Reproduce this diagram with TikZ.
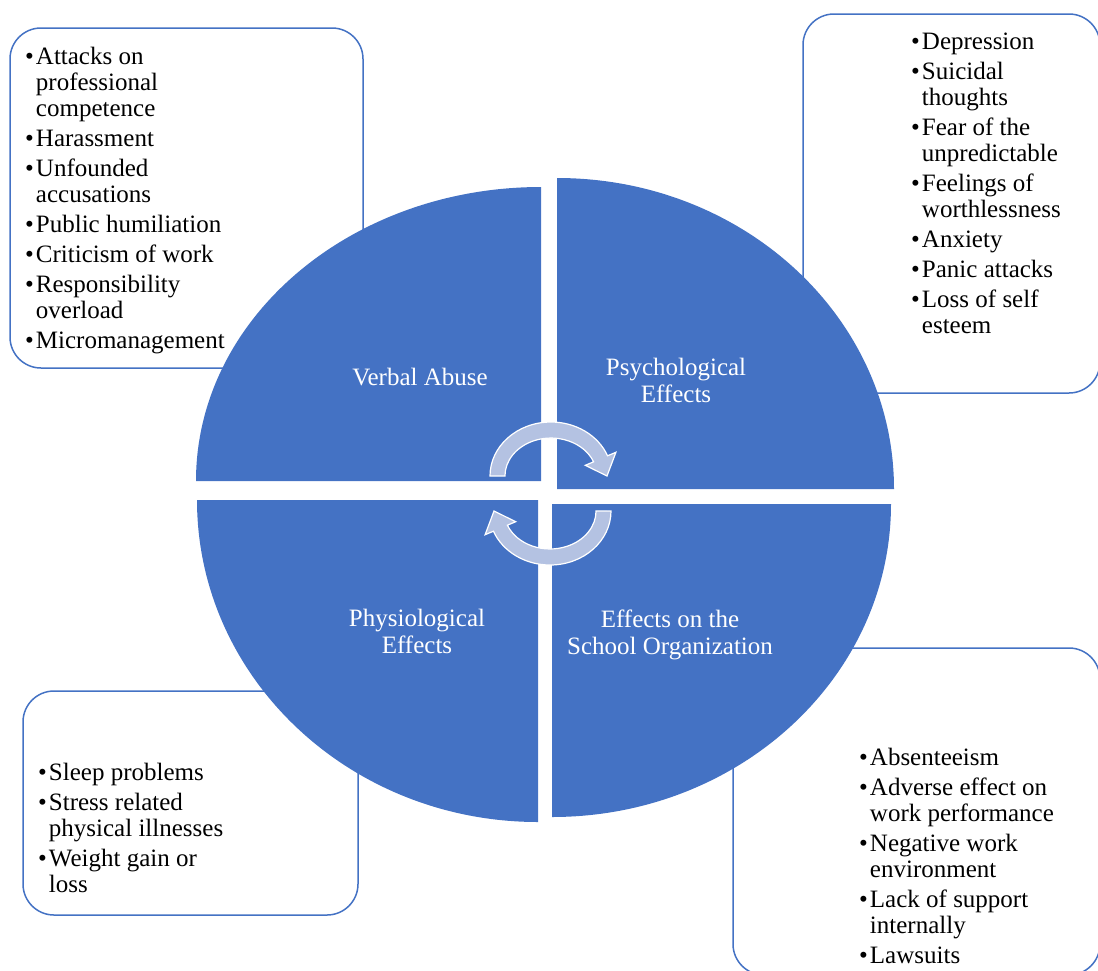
\documentclass[tikz,border=0pt]{standalone}
\usepackage{fontspec}
\setmainfont{Liberation Serif}
\definecolor{quadblue}{HTML}{4472C4}
\definecolor{arrowblue}{HTML}{B4C2E2}
\tikzset{
    listbox/.style={draw=quadblue, line width=1.5pt, fill=white, rounded corners=31pt},
    quadrant/.style={fill=quadblue},
    quadlabel/.style={anchor=base, inner sep=0pt, text=white,
        font=\fontsize{25}{27}\selectfont},
    itemlist/.style={anchor=base west, inner sep=0pt,
        font=\fontsize{25}{26}\selectfont},
    cyclearrow/.pic={
        \filldraw[fill=arrowblue, draw=white, line width=1.2pt]
            (-61,0) arc[start angle=180, end angle=22, x radius=61pt, y radius=54pt]
            -- (64.9,-23.7) -- (56,0) -- (34.3,-10.7) -- (42.6,-14.2)
            arc[start angle=22, end angle=180, x radius=46pt, y radius=38pt] -- cycle;
    }
}

\begin{document}
\begin{tikzpicture}[x=1pt, y=-1pt]
    \path[use as bounding box, clip] (0,0) rectangle (1098,970);

    % List boxes
    \draw[listbox] (10,28)   rectangle (363,368);
    \draw[listbox] (803,14)  rectangle (1100,393);
    \draw[listbox] (23,691)  rectangle (358,915);
    \draw[listbox] (733,648) rectangle (1100,975);

    % Quadrants
    \fill[quadrant] (541,481) -- (196,481)
        arc[start angle=180, end angle=90, x radius=345pt, y radius=294pt] -- cycle;
    \fill[quadrant] (557,489) -- (557,178)
        arc[start angle=90, end angle=0, x radius=337pt, y radius=311pt] -- cycle;
    \fill[quadrant] (552,504) -- (891,504)
        arc[start angle=0, end angle=-90, x radius=339pt, y radius=313pt] -- cycle;
    \fill[quadrant] (538,500) -- (538,822)
        arc[start angle=270, end angle=180, x radius=341pt, y radius=322pt] -- cycle;

    % Cycle arrows
    \pic at (551,476) {cyclearrow};
    \pic[rotate=180] at (550,511) {cyclearrow};

    % Quadrant labels
    \node[quadlabel] (abuse) at (420,385) {Verbal Abuse};
    \node[quadlabel] (psych) at (676,375)
        {\begin{tabular}[t]{@{}c@{}}Psychological\\Effects\end{tabular}};
    \node[quadlabel] (physio) at (417,626)
        {\begin{tabular}[t]{@{}c@{}}Physiological\\Effects\end{tabular}};
    \node[quadlabel] (org) at (670,627)
        {\begin{tabular}[t]{@{}c@{}}Effects on the\\School Organization\end{tabular}};

    % Lists
    \node[itemlist] (abuse-list) at (25,64) {\begin{tabular}[t]{@{}l@{\hspace{2pt}}l@{}}
        \textbullet & Attacks on\\ & professional\\ & competence\\[4pt]
        \textbullet & Harassment\\[4pt]
        \textbullet & Unfounded\\ & accusations\\[4pt]
        \textbullet & Public humiliation\\[4pt]
        \textbullet & Criticism of work\\[4pt]
        \textbullet & Responsibility\\ & overload\\[4pt]
        \textbullet & Micromanagement
    \end{tabular}};
    \node[itemlist] (psych-list) at (911,49) {\begin{tabular}[t]{@{}l@{\hspace{2pt}}l@{}}
        \textbullet & Depression\\[4pt]
        \textbullet & Suicidal\\ & thoughts\\[4pt]
        \textbullet & Fear of the\\ & unpredictable\\[4pt]
        \textbullet & Feelings of\\ & worthlessness\\[4pt]
        \textbullet & Anxiety\\[4pt]
        \textbullet & Panic attacks\\[4pt]
        \textbullet & Loss of self\\ & esteem
    \end{tabular}};
    \node[itemlist] (physio-list) at (38,780) {\begin{tabular}[t]{@{}l@{\hspace{2pt}}l@{}}
        \textbullet & Sleep problems\\[4pt]
        \textbullet & Stress related\\ & physical illnesses\\[4pt]
        \textbullet & Weight gain or\\ & loss
    \end{tabular}};
    \node[itemlist] (org-list) at (859,765) {\begin{tabular}[t]{@{}l@{\hspace{2pt}}l@{}}
        \textbullet & Absenteeism\\[4pt]
        \textbullet & Adverse effect on\\ & work performance\\[4pt]
        \textbullet & Negative work\\ & environment\\[4pt]
        \textbullet & Lack of support\\ & internally\\[4pt]
        \textbullet & Lawsuits
    \end{tabular}};
\end{tikzpicture}
\end{document}
